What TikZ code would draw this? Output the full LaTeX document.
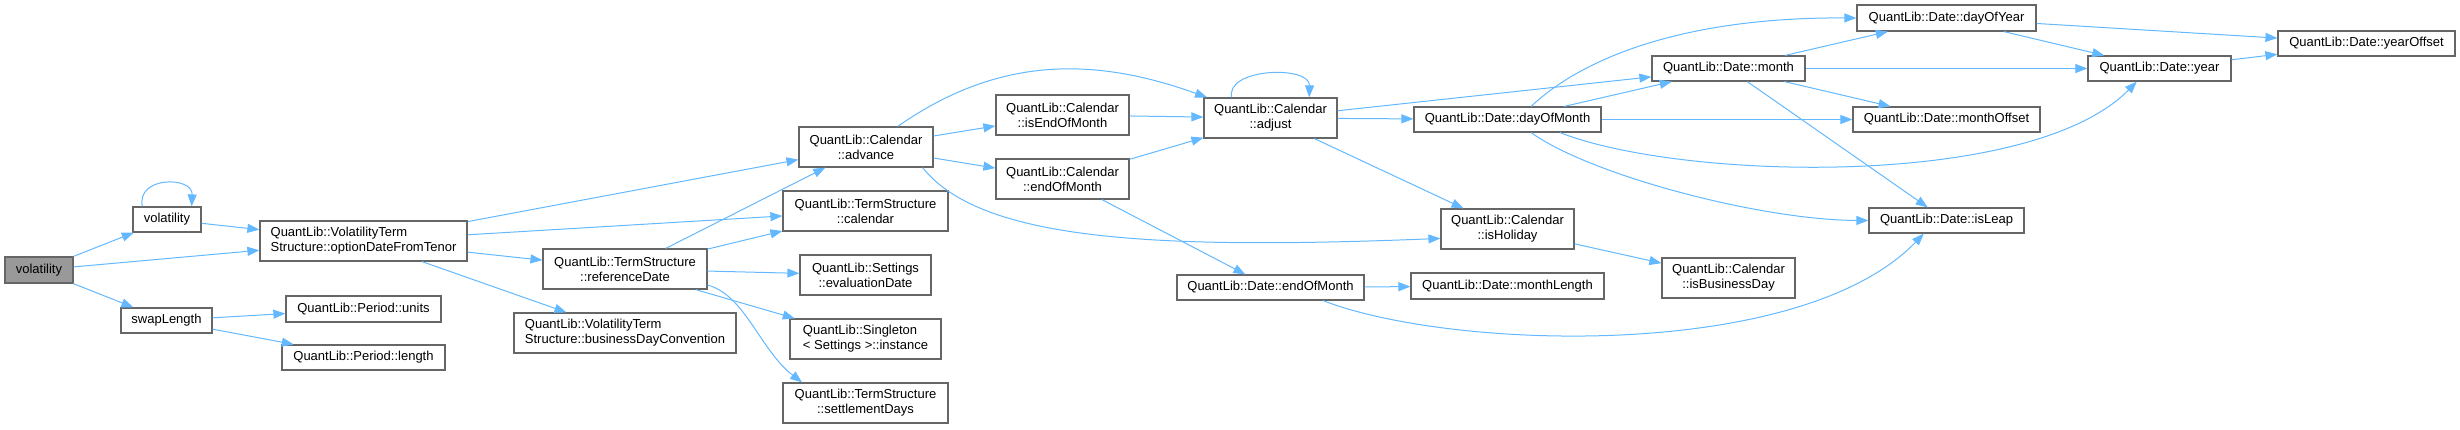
\documentclass[tikz,border=0pt]{standalone}
\usepackage{fontspec}
\setmainfont{Liberation Sans}
\usetikzlibrary{arrows.meta}
\definecolor{edgeblue}{HTML}{63B8FF}
\definecolor{boxgray}{HTML}{666666}
\definecolor{rootfill}{HTML}{999999}
\newcommand{\nodefont}{\fontsize{13}{15}\selectfont}
\tikzset{
  box/.style={draw=boxgray, fill=white, line width=1.2pt, inner sep=0pt, font=\nodefont, align=center},
  rootbox/.style={box, fill=rootfill},
  edge/.style={draw=edgeblue, line width=1pt, -{Triangle[length=12pt,width=9pt]}}
}
\begin{document}
\begin{tikzpicture}[x=1pt,y=-1pt]
\useasboundingbox (0,0) rectangle (2460,429);
% nodes
\node[rootbox, minimum width=68, minimum height=26] (root) at (39,270) {volatility};
\node[box, minimum width=68, minimum height=25] (vol2) at (167,219.5) {volatility};
\node[box, align=left, minimum width=207, minimum height=40] (odft) at (363.5,241) {QuantLib::VolatilityTerm\\Structure::optionDateFromTenor};
\node[box, minimum width=91, minimum height=25] (swap) at (166.5,320.5) {swapLength};
\node[box, minimum width=155, minimum height=26] (units) at (363.5,309) {QuantLib::Period::units};
\node[box, minimum width=163, minimum height=25] (length) at (363.5,357.5) {QuantLib::Period::length};
\node[box, minimum width=134, minimum height=40] (advance) at (866,147) {QuantLib::Calendar\\::advance};
\node[box, minimum width=165, minimum height=40] (tscal) at (865.5,211) {QuantLib::TermStructure\\::calendar};
\node[box, minimum width=164, minimum height=40] (refdate) at (625,269) {QuantLib::TermStructure\\::referenceDate};
\node[box, minimum width=131, minimum height=40] (evaldate) at (865.5,275) {QuantLib::Settings\\::evaluationDate};
\node[box, align=left, minimum width=222, minimum height=40] (bdc) at (625,333) {QuantLib::VolatilityTerm\\Structure::businessDayConvention};
\node[box, align=left, minimum width=151, minimum height=40] (single) at (865.5,339) {QuantLib::Singleton\\< Settings >::instance};
\node[box, minimum width=165, minimum height=40] (settle) at (865.5,403) {QuantLib::TermStructure\\::settlementDays};
\node[box, minimum width=133, minimum height=40] (iseom) at (1062.5,115) {QuantLib::Calendar\\::isEndOfMonth};
\node[box, minimum width=133, minimum height=40] (caleom) at (1062.5,179) {QuantLib::Calendar\\::endOfMonth};
\node[box, minimum width=133, minimum height=40] (adjust) at (1270.5,118) {QuantLib::Calendar\\::adjust};
\node[box, minimum width=187, minimum height=25] (dateeom) at (1270.5,287.5) {QuantLib::Date::endOfMonth};
\node[box, minimum width=193, minimum height=26] (mlength) at (1507.5,286) {QuantLib::Date::monthLength};
\node[box, minimum width=133, minimum height=40] (isholiday) at (1507.5,229) {QuantLib::Calendar\\::isHoliday};
\node[box, minimum width=133, minimum height=40] (isbday) at (1728.5,278) {QuantLib::Calendar\\::isBusinessDay};
\node[box, minimum width=187, minimum height=25] (dom) at (1507.5,119.5) {QuantLib::Date::dayOfMonth};
\node[box, minimum width=153, minimum height=25] (month) at (1728.5,68.5) {QuantLib::Date::month};
\node[box, minimum width=179, minimum height=26] (doy) at (1946.5,18) {QuantLib::Date::dayOfYear};
\node[box, minimum width=187, minimum height=25] (moffset) at (1946.5,119.5) {QuantLib::Date::monthOffset};
\node[box, minimum width=155, minimum height=25] (isleap) at (1946.5,220.5) {QuantLib::Date::isLeap};
\node[box, minimum width=143, minimum height=25] (year) at (2159.5,68.5) {QuantLib::Date::year};
\node[box, minimum width=177, minimum height=25] (yoffset) at (2366.5,43.5) {QuantLib::Date::yearOffset};
% edges
\draw[edge] (root) -- (vol2);
\draw[edge] (root) -- (odft);
\draw[edge] (root) -- (swap);
\draw[edge] (vol2.152) .. controls (136,176) and (193,176) .. (vol2.28);
\draw[edge] (vol2) -- (odft);
\draw[edge] (odft) -- (advance);
\draw[edge] (odft) -- (tscal);
\draw[edge] (odft) -- (refdate);
\draw[edge] (odft) -- (bdc);
\draw[edge] (swap) -- (units);
\draw[edge] (swap) -- (length);
\draw[edge] (refdate) -- (advance);
\draw[edge] (refdate) -- (tscal);
\draw[edge] (refdate) -- (evaldate);
\draw[edge] (refdate) -- (single);
\draw[edge] (refdate.-11) .. controls (745,295) and (760,350) .. (settle.162);
\draw[edge] (advance.33) .. controls (997,57) and (1092,56) .. (adjust.162);
\draw[edge] (advance) -- (iseom);
\draw[edge] (advance) -- (caleom);
\draw[edge] (advance.-20) .. controls (980,240) and (1150,250) .. (isholiday.188);
\draw[edge] (iseom) -- (adjust);
\draw[edge] (caleom) -- (adjust);
\draw[edge] (caleom) -- (dateeom);
\draw[edge] (adjust.152) .. controls (1225,68) and (1310,65) .. (adjust.28);
\draw[edge] (adjust) -- (month);
\draw[edge] (adjust) -- (dom);
\draw[edge] (adjust) -- (isholiday);
\draw[edge] (dateeom) -- (mlength);
\draw[edge] (dateeom.-14) .. controls (1450,350) and (1800,362) .. (isleap.210);
\draw[edge] (isholiday) -- (isbday);
\draw[edge] (dom.29) .. controls (1580,60) and (1680,17) .. (doy.west);
\draw[edge] (dom) -- (month);
\draw[edge] (dom) -- (moffset);
\draw[edge] (dom.-14) .. controls (1680,180) and (2030,190) .. (year.210);
\draw[edge] (dom.-29) .. controls (1590,175) and (1760,220) .. (isleap.west);
\draw[edge] (month) -- (doy);
\draw[edge] (month) -- (year);
\draw[edge] (month) -- (moffset);
\draw[edge] (month) -- (isleap);
\draw[edge] (doy) -- (yoffset);
\draw[edge] (doy) -- (year);
\draw[edge] (year) -- (yoffset);
\end{tikzpicture}
\end{document}
